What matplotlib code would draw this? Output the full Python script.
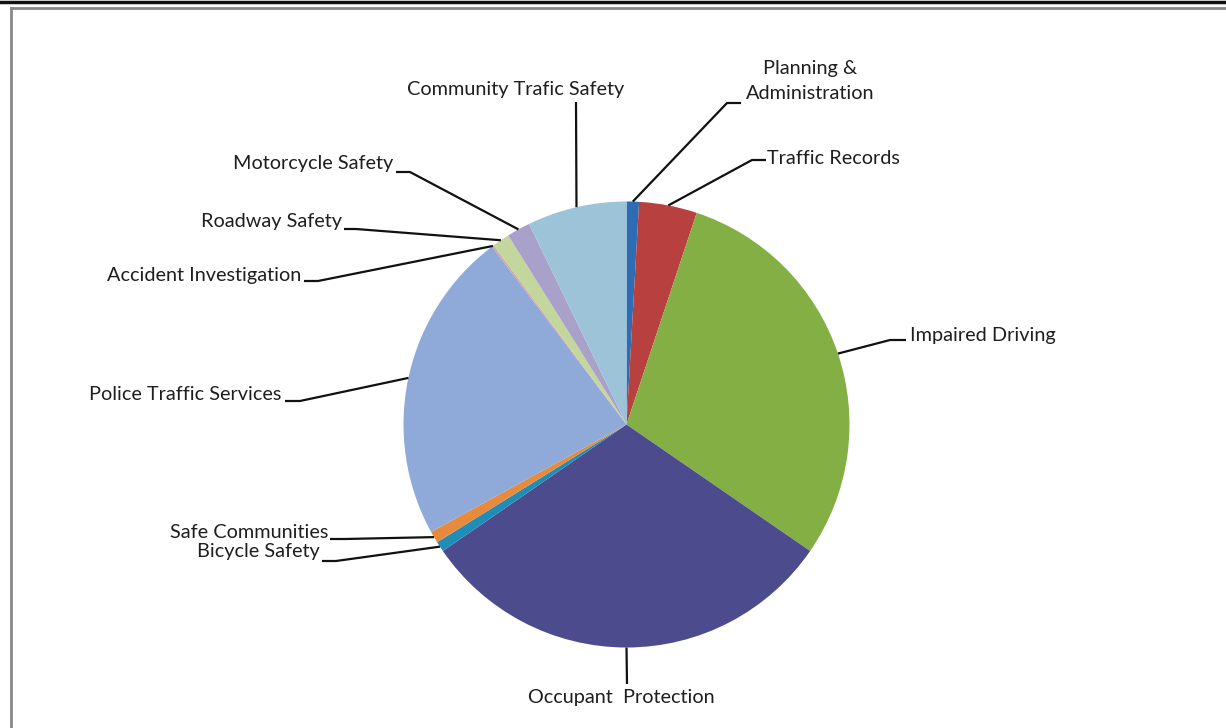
import matplotlib
matplotlib.use("Agg")
import matplotlib.pyplot as plt
import numpy as np

# ---- data ----
categories = ["Planning &\nAdministration", "Traffic Records", "Impaired Driving",
              "Occupant  Protection", "Bicycle Safety", "Safe Communities",
              "Police Traffic Services", "Accident Investigation", "Roadway Safety",
              "Motorcycle Safety", "Community Trafic Safety"]
shares = [0.9, 4.2, 29.5, 30.8, 0.75, 0.85, 22.7, 0.15, 1.25, 1.7, 7.2]
colors = ["#2E6DB4", "#B8413F", "#83AF45", "#4C4B8D", "#1F8DB8", "#E88A3C",
          "#8FA9D8", "#D4A8A6", "#C3D69B", "#A9A1CA", "#9DC3D9"]

# ---- layout (pixel coordinates, y downward) ----
W, H = 1226, 728
CX, CY, R = 626.5, 424.5, 223
# label: (text x, text y, ha), leader elbow point, stub end point
label_layout = [
    ((810, 81, "center"), (727, 103), (741, 103)),
    ((767, 158, "left"), (752, 160), (766, 160)),
    ((910, 336, "left"), (890, 340), (906, 340)),
    ((621, 698, "center"), (627, 684), None),
    ((320, 552, "right"), (336, 561), (322, 561)),
    ((328, 533, "right"), (345, 539), (330, 539)),
    ((281, 395, "right"), (300, 401), (285, 401)),
    ((301, 276, "right"), (318, 281), (304, 281)),
    ((342, 222, "right"), (356, 229), (344, 229)),
    ((393, 164, "right"), (410, 172), (396, 172)),
    ((516, 89, "center"), (576, 102), None),
]

fig = plt.figure(figsize=(W / 100, H / 100), dpi=100)
ax = fig.add_axes([0, 0, 1, 1])

def fy(y):
    return H - y

wedges, _ = ax.pie(shares, colors=colors, center=(CX, fy(CY)), radius=R,
                   startangle=90, counterclock=False,
                   wedgeprops=dict(linewidth=0), frame=True)
ax.set_xlim(0, W)
ax.set_ylim(0, H)
ax.set_aspect("equal")
ax.axis("off")

for w, lab, (txt, elbow, stub) in zip(wedges, categories, label_layout):
    ang = np.deg2rad((w.theta1 + w.theta2) / 2)
    ex = CX + R * np.cos(ang)
    ey = fy(CY) + R * np.sin(ang)
    xs = [ex, elbow[0]]
    ys = [ey, fy(elbow[1])]
    if stub is not None:
        xs.append(stub[0])
        ys.append(fy(stub[1]))
    ax.plot(xs, ys, color="#111111", lw=1.6, solid_capstyle="butt")
    tx, ty, ha = txt
    ax.text(tx, fy(ty), lab, ha=ha, va="center", fontsize=14.3,
            family="Lato", color="#1E1E1E", linespacing=1.6,
            multialignment="center")

# frame lines
fig.add_artist(plt.Line2D([0, 1], [1 - 1.5 / H, 1 - 1.5 / H], transform=fig.transFigure,
                          color="#111111", lw=2.5))
fig.add_artist(plt.Line2D([11 / W, 1], [1 - 8 / H, 1 - 8 / H], transform=fig.transFigure,
                          color="#888888", lw=2))
fig.add_artist(plt.Line2D([11 / W, 11 / W], [0, 1 - 8 / H], transform=fig.transFigure,
                          color="#888888", lw=2))

fig.savefig("out.png", dpi=100, facecolor="white")
